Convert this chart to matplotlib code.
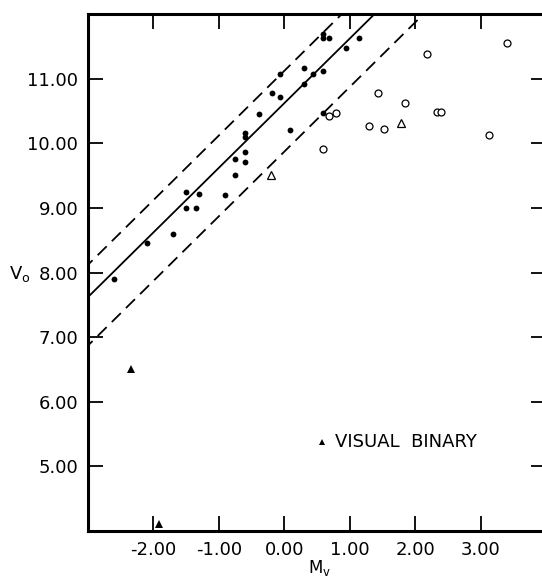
import matplotlib
matplotlib.use("Agg")
import matplotlib.pyplot as plt
import numpy as np

# Data
filled_mv = [-2.60, -2.10, -1.70, -1.50, -1.50, -1.35, -1.31, -0.90, -0.75, -0.75,
             -0.60, -0.60, -0.60, -0.60, -0.39, -0.19, -0.06, -0.06, 0.08, 0.30,
             0.30, 0.44, 0.59, 0.59, 0.59, 0.59, 0.69, 0.94, 1.14]
filled_v0 = [7.90, 8.45, 8.60, 9.25, 9.00, 9.00, 9.21, 9.20, 9.51, 9.76,
             9.71, 9.86, 10.10, 10.16, 10.46, 10.77, 10.71, 11.07, 10.21, 11.17,
             10.92, 11.07, 11.12, 10.47, 11.69, 11.63, 11.63, 11.48, 11.63]
open_mv = [0.68, 0.79, 0.59, 1.29, 1.43, 1.53, 1.84, 2.18, 2.33, 2.39, 3.13, 3.40]
open_v0 = [10.42, 10.47, 9.91, 10.27, 10.77, 10.22, 10.63, 11.38, 10.48, 10.48, 10.13, 11.55]
open_tri_mv = [-0.20, 1.78]
open_tri_v0 = [9.51, 10.32]
binary_mv = [-2.35, -1.91]
binary_v0 = [6.50, 4.11]
legend_mv = [0.58]
legend_v0 = [5.37]

line_offsets = [10.62, 11.12, 9.87]   # V0 = Mv + offset
line_styles = ['-', (0, (7, 4)), (0, (7, 4))]

xticks = [-2, -1, 0, 1, 2, 3]
xticklabels = ['-2.00', '-1.00', '0.00', '1.00', '2.00', '3.00']
yticks = [5, 6, 7, 8, 9, 10, 11]
yticklabels = ['5.00', '6.00', '7.00', '8.00', '9.00', '10.00', '11.00']

W, H = 542, 577
fig = plt.figure(figsize=(W / 100, H / 100), dpi=100)
left, right, top, bottom = 88, 546, 14, 531
ax = fig.add_axes([left / W, 1 - bottom / H, (right - left) / W, (bottom - top) / H])
ax.set_xlim(-3, 4)
ax.set_ylim(4, 12)

xs = np.array([-3.5, 4.5])
for off, ls in zip(line_offsets, line_styles):
    ax.plot(xs, xs + off, color='black', lw=1.3, ls=ls)

ax.plot(filled_mv, filled_v0, 'o', color='black', ms=4.2, mew=0)
ax.plot(open_mv, open_v0, 'o', mfc='white', mec='black', ms=5, mew=0.9)
ax.plot(open_tri_mv, open_tri_v0, '^', mfc='white', mec='black', ms=5.5, mew=0.9)
ax.plot(binary_mv, binary_v0, '^', color='black', ms=5.5, mew=0, clip_on=False)
ax.plot(legend_mv, legend_v0, '^', color='black', ms=5, mew=0)
ax.text(0.78, 5.37, 'VISUAL  BINARY', fontsize=13, va='center', ha='left')

for s in ax.spines.values():
    s.set_linewidth(2.2)
ax.set_xticks(xticks)
ax.set_xticklabels(xticklabels)
ax.set_yticks(yticks)
ax.set_yticklabels(yticklabels)
ax.tick_params(direction='in', length=11, width=1.3, top=True, right=True,
               labelsize=13, pad=7)
fig.text(320 / W, 1 - 568 / H, 'M$_\\mathregular{v}$', fontsize=12, ha='center', va='center')
fig.text(20 / W, 1 - 274 / H, 'V$_\\mathregular{o}$', fontsize=13, ha='center', va='center')

fig.savefig('out.png', dpi=100)
